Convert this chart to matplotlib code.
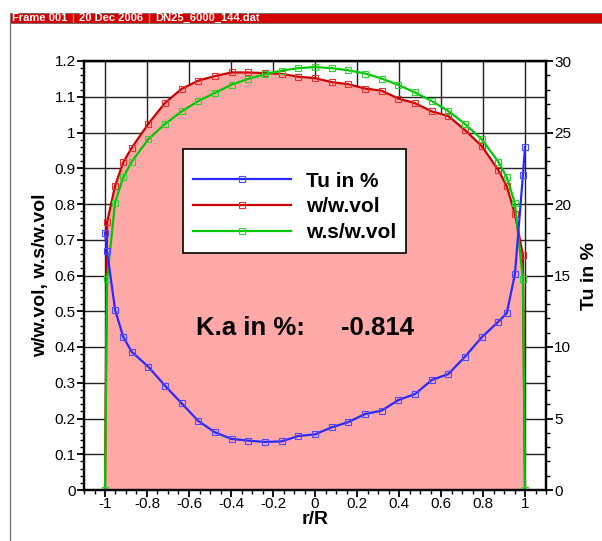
import matplotlib
matplotlib.use('Agg')
import matplotlib.pyplot as plt
from matplotlib.patches import Rectangle
from matplotlib.lines import Line2D
from matplotlib.ticker import MultipleLocator, FuncFormatter

plt.rcParams['font.family'] = ['Liberation Sans', 'DejaVu Sans']
plt.rcParams['axes.unicode_minus'] = False

# data
r_R = [-1.0, -0.99, -0.952, -0.913, -0.873, -0.794, -0.714, -0.635, -0.556, -0.476,
       -0.397, -0.317, -0.238, -0.159, -0.079, 0.0, 0.079, 0.159, 0.238, 0.317,
       0.397, 0.476, 0.556, 0.635, 0.714, 0.794, 0.873, 0.913, 0.952, 0.99, 1.0]
tu = [18.0, 16.7, 12.6, 10.7, 9.67, 8.62, 7.29, 6.06, 4.83, 4.03,
      3.57, 3.45, 3.36, 3.40, 3.78, 3.89, 4.38, 4.75, 5.31, 5.55,
      6.29, 6.71, 7.69, 8.11, 9.32, 10.68, 11.77, 12.36, 15.1, 22.0, 24.0]
w_wvol = [0.0, 0.749, 0.851, 0.917, 0.957, 1.024, 1.083, 1.122, 1.145, 1.158,
          1.168, 1.168, 1.166, 1.164, 1.156, 1.152, 1.141, 1.135, 1.123, 1.117,
          1.095, 1.082, 1.059, 1.046, 1.007, 0.962, 0.895, 0.850, 0.772, 0.657, 0.0]
ws_wvol = [0.0, 0.590, 0.804, 0.875, 0.918, 0.981, 1.024, 1.059, 1.088, 1.111,
           1.134, 1.150, 1.163, 1.173, 1.180, 1.183, 1.180, 1.174, 1.165, 1.151,
           1.133, 1.112, 1.088, 1.060, 1.024, 0.981, 0.918, 0.875, 0.802, 0.590, 0.0]
ka_value = -0.814
header = ['Frame 001', '20 Dec 2006', 'DN25_6000_144.dat']

W, H = 602, 541
fig = plt.figure(figsize=(W / 100, H / 100), dpi=100)

# tecplot style header bar and frame
fig.patches.append(Rectangle((10 / W, 1 - 23 / H), 1, 10 / H, transform=fig.transFigure,
                             facecolor='#d40000', edgecolor='#666666', lw=0.6))
fig.lines.append(Line2D([10 / W, 10 / W], [0, 1 - 23 / H], transform=fig.transFigure,
                        color='#777777', lw=1))
hx = [12.5, 79, 155]
for txt, x in zip(header, hx):
    fig.text(x / W, 1 - 18.2 / H, txt, color='white', fontsize=8, fontweight='bold',
             va='center', ha='left')
for x in [73, 149]:
    fig.lines.append(Line2D([x / W, x / W], [1 - 22 / H, 1 - 14 / H], transform=fig.transFigure,
                            color='#f08080', lw=1))

ax = fig.add_axes([84 / W, 1 - 490 / H, 462 / W, 429 / H])
ax2 = ax.twinx()

ax.set_axisbelow(True)
ax.grid(True, which='major', color='#222222', lw=1)
ax.fill_between(r_R, w_wvol, 0, color='#ffa8a8', lw=0, zorder=1.5)

mk = dict(marker='s', markersize=4, markerfacecolor='none', markeredgewidth=0.8)
l_red, = ax.plot(r_R, w_wvol, color='#cc0000', lw=1.6, zorder=3,
                 markeredgecolor='#e03030', **mk)
l_green, = ax.plot(r_R, ws_wvol, color='#00c800', lw=1.6, zorder=3,
                   markeredgecolor='#30d030', **mk)
l_blue, = ax2.plot(r_R, tu, color='#2a2aff', lw=1.6, zorder=3,
                   markeredgecolor='#4a4aff', **mk)

ax.set_xlim(-1.1, 1.1)
ax.set_ylim(0, 1.2)
ax2.set_ylim(0, 30)

fmt = FuncFormatter(lambda v, p: '%g' % round(v, 3))
ax.xaxis.set_major_locator(MultipleLocator(0.2))
ax.xaxis.set_minor_locator(MultipleLocator(0.05))
ax.yaxis.set_major_locator(MultipleLocator(0.1))
ax.yaxis.set_minor_locator(MultipleLocator(0.02))
ax2.yaxis.set_major_locator(MultipleLocator(5))
ax2.yaxis.set_minor_locator(MultipleLocator(1))
ax.xaxis.set_major_formatter(fmt)
ax.yaxis.set_major_formatter(fmt)
ax2.yaxis.set_major_formatter(fmt)

for a in (ax, ax2):
    a.tick_params(which='major', direction='out', length=5, width=1.3, labelsize=11, pad=1)
    a.tick_params(which='minor', direction='out', length=3, width=1)
    for s in a.spines.values():
        s.set_linewidth(1.6)
ax.tick_params(axis='x', which='major', pad=0)

ax.set_xlabel('r/R', fontsize=14, fontweight='bold', labelpad=0)
ax.set_ylabel('w/w.vol, w.s/w.vol', fontsize=14, fontweight='bold', labelpad=4)
ax2.set_ylabel('Tu in %', fontsize=14, fontweight='bold', labelpad=7)

ax2.text(-0.565, 0.452, 'K.a in %:', transform=ax.transData, fontsize=18.5, fontweight='bold',
         va='center', ha='left', zorder=5)
ax2.text(0.124, 0.452, '%.3f' % ka_value, transform=ax.transData, fontsize=18.5,
         fontweight='bold', va='center', ha='left', zorder=5)

leg = ax2.legend([l_blue, l_red, l_green], ['Tu in %', 'w/w.vol', 'w.s/w.vol'],
                 loc='upper left', bbox_to_anchor=((182.7 - 84) / 462, (490 - 149.3) / 429),
                 borderaxespad=0, fancybox=False, framealpha=1, edgecolor='black',
                 prop={'size': 15, 'weight': 'bold'}, handlelength=4.7, handletextpad=0.7,
                 labelspacing=0.33, borderpad=0.5, markerscale=1.1,
                 title=' ', title_fontsize=4)
leg.get_frame().set_linewidth(1.2)
leg.set_zorder(10)

fig.savefig('out.png', dpi=100)
